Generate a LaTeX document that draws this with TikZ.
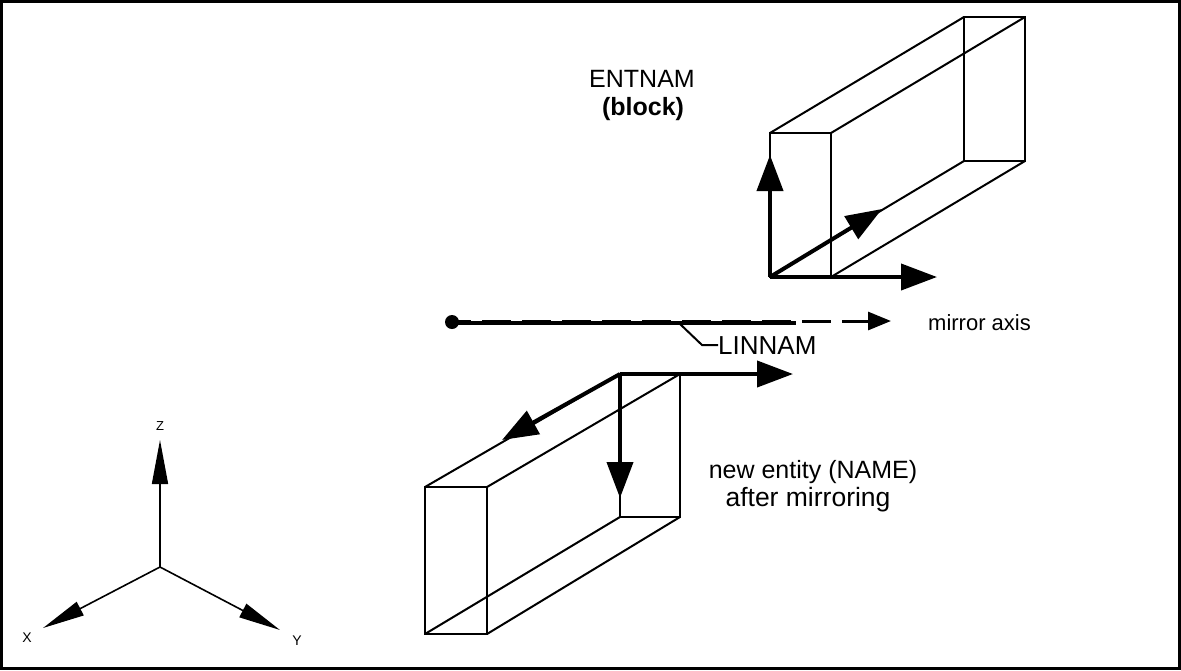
\documentclass[tikz,border=0pt]{standalone}
\usepackage{fontspec}
\setmainfont{Liberation Sans}
\usetikzlibrary{arrows.meta}
\begin{document}
\begin{tikzpicture}[x=1pt,y=-1pt,
  edge/.style={line width=2pt},
  vec/.style={line width=4pt,-{Triangle[length=36pt,width=26pt]}},
  axisvec/.style={line width=1.6pt,-{Triangle[length=42pt,width=15pt]}},
  lbl/.style={font=\fontsize{24}{28}\selectfont, inner sep=0pt},
  small/.style={font=\fontsize{13}{15}\selectfont, inner sep=0pt},
]
\useasboundingbox (0,0) rectangle (1181,670);
\draw[line width=3pt] (1.5,1.5) rectangle (1179.5,668.5);

% ---- top block (ENTNAM)
\coordinate (A1) at (770,133); \coordinate (A2) at (831,133);
\coordinate (A3) at (831,277); \coordinate (A4) at (770,277);
\coordinate (B1) at (964,17);  \coordinate (B2) at (1025,17);
\coordinate (B3) at (1025,161); \coordinate (B4) at (964,161);
\draw[edge] (A1) rectangle (A3);
\draw[edge] (B1) rectangle (B3);
\draw[edge] (A1) -- (B1) (A2) -- (B2) (A3) -- (B3) (A4) -- (B4);
\coordinate (Az) at (770,155);
\coordinate (Ax) at (937,277);
\coordinate (Ay) at (882,209);
\draw[vec] (A4) -- (Az);
\draw[vec] (A4) -- (Ax);
\draw[vec] (A4) -- (Ay);

% ---- bottom block (mirrored)
\coordinate (C1) at (425,487); \coordinate (C2) at (487,487);
\coordinate (C3) at (487,634); \coordinate (C4) at (425,634);
\coordinate (D1) at (620,374); \coordinate (D2) at (680,374);
\coordinate (D3) at (680,517); \coordinate (D4) at (620,517);
\draw[edge] (C1) rectangle (C3);
\draw[edge] (D1) rectangle (D3);
\draw[edge] (C1) -- (D1) (C2) -- (D2) (C3) -- (D3) (C4) -- (D4);
\coordinate (Dx) at (793,374);
\coordinate (Dz) at (620,498);
\coordinate (Dy) at (502,440);
\draw[vec] (D1) -- (Dx);
\draw[vec] (D1) -- (Dz);
\draw[vec] (D1) -- (Dy);

% ---- mirror axis
\node[circle, fill, inner sep=0pt, minimum size=14pt] (dot) at (452,322) {};
\coordinate (solidend) at (796,323);
\coordinate (axtip) at (891,321);
\draw[line width=4pt] (dot.center) ++(0,1) -- (solidend);
\draw[line width=3pt, dash pattern=on 29pt off 11pt, dash phase=10pt,
      -{Triangle[length=23pt,width=18pt]}] (dot.center) ++(0,-1) -- (axtip);
\node[lbl, anchor=base west, font=\fontsize{22}{26}\selectfont] (mirror) at (928,330) {mirror axis};

% ---- LINNAM leader
\node[lbl, anchor=base west, font=\fontsize{26}{28}\selectfont] (lin) at (718,354) {LINNAM};
\coordinate (lk) at (702,345);
\coordinate (lp) at (680,324);
\draw[line width=2pt] (lp) -- (lk) -- (lin.west |- lk);

% ---- labels
\node[lbl, anchor=base, font=\fontsize{25}{28}\selectfont] (ent) at (642,87) {ENTNAM};
\node[lbl, anchor=base, font=\fontsize{25}{28}\selectfont\bfseries] (blk) at (643,115) {(block)};
\node[lbl, anchor=base, font=\fontsize{25}{28}\selectfont] (new1) at (813,478) {new entity (NAME)};
\node[lbl, anchor=base, font=\fontsize{26.5}{28}\selectfont] (new2) at (808,506) {after mirroring};

% ---- coordinate axes
\coordinate (O) at (160,567);
\coordinate (Zt) at (160,440);
\coordinate (Xt) at (43,628);
\coordinate (Yt) at (280,630);
\draw[line width=1.6pt,-{Triangle[length=44pt,width=16pt]}] (O) -- (Zt);
\draw[axisvec] (O) -- (Xt);
\draw[axisvec] (O) -- (Yt);
\node[small] (zl) at (160,426) {Z};
\node[small, font=\fontsize{14}{16}\selectfont] (xl) at (27,638) {X};
\node[small, font=\fontsize{14}{16}\selectfont] (yl) at (297,641) {Y};
\end{tikzpicture}
\end{document}
